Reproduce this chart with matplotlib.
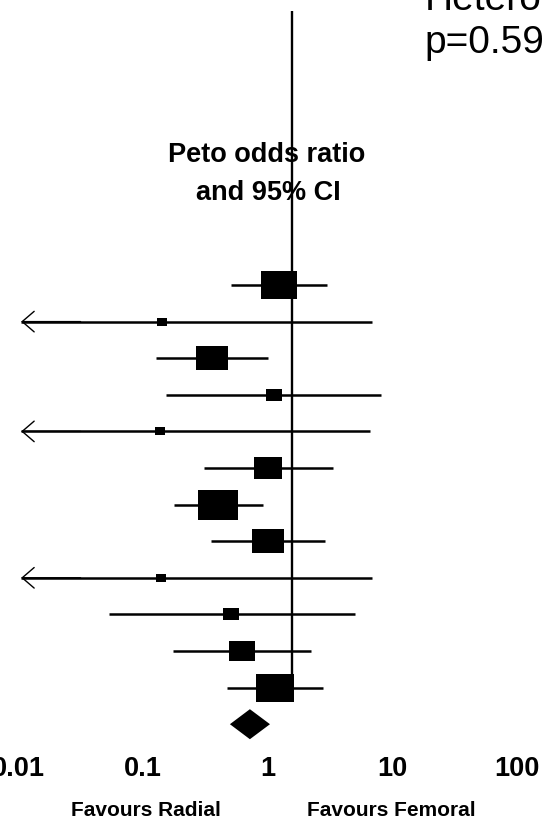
import numpy as np
import matplotlib
matplotlib.use("Agg")
import matplotlib.pyplot as plt
from matplotlib.path import Path
from matplotlib.ticker import NullLocator

plt.rcParams['font.family'] = ['Liberation Sans', 'DejaVu Sans']

# Peto odds ratios, one row per trial (top to bottom)
odds_ratio = [1.235, 0.142, 0.358, 1.12, 0.137, 1.01, 0.403, 1.013, 0.139, 0.513, 0.619, 1.144]
# lower CI is nan where it runs off the left of the scale (drawn as arrow)
ci_low = [0.508, np.nan, 0.126, 0.154, np.nan, 0.308, 0.176, 0.351, np.nan, 0.0532, 0.1726, 0.474]
ci_high = [3.02, 6.95, 1.013, 8.10, 6.68, 3.33, 0.927, 2.91, 6.86, 5.01, 2.23, 2.77]
weight = [15.5, 1.2, 11.6, 3.3, 1.2, 9.0, 18.2, 11.6, 1.2, 2.6, 8.0, 16.6]  # % weight

pooled_or = 0.722
pooled_low = 0.499
pooled_high = 1.047
ref_line = 1.56

tick_vals = [0.01, 0.1, 1, 10, 100]
tick_labels = ["0.01", "0.1", "1", "10", "100"]

fig = plt.figure(figsize=(5.42, 8.17), dpi=100)
ax = fig.add_axes([0, 0.082, 1, 0.918])
ax.set_xscale('log')
ax.set_xlim(0.0071, 160.3)
ax.set_ylim(12.705, -7.787)

arrow_tip = 0.0105

# box marker, a bit wider than tall like the original
box = Path([(-1.32, -1), (1.32, -1), (1.32, 1), (-1.32, 1), (-1.32, -1)],
           [Path.MOVETO, Path.LINETO, Path.LINETO, Path.LINETO, Path.CLOSEPOLY])

for i in range(len(odds_ratio)):
    lo = ci_low[i]
    if np.isnan(lo):
        ax.hlines(i, arrow_tip, ci_high[i], color='black', lw=1.8, zorder=2)
        ax.annotate('', xy=(arrow_tip, i), xytext=(arrow_tip * 3, i),
                    arrowprops=dict(arrowstyle='->,head_length=0.43,head_width=0.37',
                                    lw=1.0, color='black', shrinkA=0, shrinkB=0,
                                    mutation_scale=20))
    else:
        ax.hlines(i, lo, ci_high[i], color='black', lw=1.8, zorder=2)
    size_pt = 9.33 * np.sqrt(weight[i]) * 0.72
    ax.plot(odds_ratio[i], i, marker=box, markersize=size_pt, color='black',
            markeredgewidth=0, linestyle='none', zorder=3)

# pooled estimate diamond
n = len(odds_ratio)
ax.fill([pooled_low, pooled_or, pooled_high, pooled_or],
        [n, n - 0.41, n, n + 0.41], color='black', lw=0, zorder=3)

# line of no effect
ax.vlines(ref_line, -7.49, 11.3, color='black', lw=1.7, zorder=2)

ax.set_xticks(tick_vals, tick_labels)
ax.xaxis.set_minor_locator(NullLocator())
ax.tick_params(axis='x', length=0, labelsize=19.5, pad=4.5)
for lab in ax.get_xticklabels():
    lab.set_fontweight('bold')
ax.set_yticks([])
for s in ax.spines.values():
    s.set_visible(False)
ax.patch.set_alpha(0)

W, H = 542.0, 817.0
fig.text(266.5 / W, 1 - 161.7 / H, "Peto odds ratio", ha='center', va='baseline',
         fontsize=19.5, fontweight='bold')
fig.text(268.4 / W, 1 - 200.5 / H, "and 95% CI", ha='center', va='baseline',
         fontsize=19.5, fontweight='bold')

fig.text(424.5 / W, 1 - 10 / H, "Heterogeneity", ha='left', va='baseline', fontsize=28)
fig.text(424.5 / W, 1 - 53.3 / H, "p=0.59", ha='left', va='baseline', fontsize=28)

fig.text(145.5 / W, 1 - 815.5 / H, "Favours Radial", ha='center', va='baseline',
         fontsize=15, fontweight='bold')
fig.text(391.1 / W, 1 - 815.5 / H, "Favours Femoral", ha='center', va='baseline',
         fontsize=15, fontweight='bold')

fig.savefig("out.png", dpi=100)
